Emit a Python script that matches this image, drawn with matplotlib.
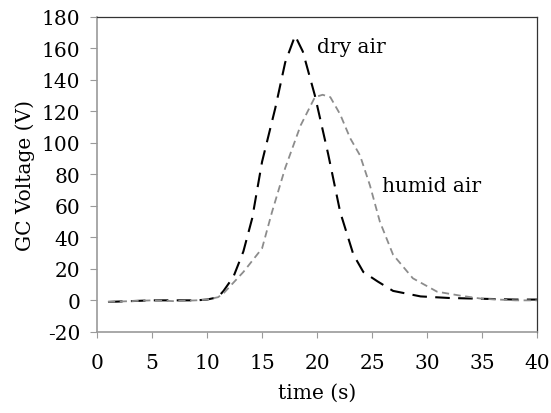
import matplotlib.pyplot as plt

# dry air trace (black, long dashes)
dry_t = [1, 3, 5, 7, 9, 10, 11, 11.5, 12.4, 13.3, 14.1, 15, 16.2, 17.1, 18,
         18.7, 19.8, 21, 22.1, 23.3, 24.2, 25.5, 26.9, 29.4, 32, 35, 38, 40]
dry_v = [-1, -0.5, 0, 0, 0, 0.5, 2, 6, 15, 31, 52, 88, 122, 151, 168,
         158, 130, 93, 56, 29, 18, 12, 6, 2.5, 1.5, 1, 0.5, 0.5]

# humid air trace (grey, short dashes)
hum_t = [1, 3, 5, 7, 9, 10, 11, 11.5, 13.3, 15, 15.9, 17.1, 18.5, 19.8, 20.5,
         21.2, 22.1, 23, 23.9, 24.8, 25.7, 26.9, 28.7, 30.9, 33, 35, 38, 40]
hum_v = [-1, -0.5, 0, -0.5, 0, 0.5, 2, 4.5, 18, 33, 56, 84, 111, 129, 130.5,
         129, 118, 103, 92, 73, 50, 29, 14, 5.5, 3, 1, 0, 0]

plt.rcParams['font.family'] = 'DejaVu Serif'
plt.rcParams['font.size'] = 14.5
plt.rcParams['axes.unicode_minus'] = False

fig = plt.figure(figsize=(5.51, 4.14), dpi=100)
ax = fig.add_axes([0.176, 0.196, 0.799, 0.761])

ax.plot(dry_t, dry_v, color='black', lw=1.5, dashes=(7, 4))
ax.plot(hum_t, hum_v, color='#8c8c8c', lw=1.3, dashes=(4, 2.5))

ax.text(20.0, 161, 'dry air', va='center', ha='left')
ax.text(25.9, 73, 'humid air', va='center', ha='left')

ax.set_xlim(0, 40)
ax.set_ylim(-20, 180)
ax.set_xticks(range(0, 41, 5))
ax.set_yticks(range(-20, 181, 20))
ax.set_xlabel('time (s)', labelpad=8)
ax.set_ylabel('GC Voltage (V)', labelpad=5)

for s in ['left', 'bottom']:
    ax.spines[s].set_color('#9a9a9a')
    ax.spines[s].set_linewidth(1.2)
for s in ['top', 'right']:
    ax.spines[s].set_color('#333333')
    ax.spines[s].set_linewidth(0.9)

ax.tick_params(axis='y', direction='out', length=5, color='#9a9a9a', pad=7)
ax.tick_params(axis='x', direction='out', length=4, color='#9a9a9a', pad=11)

fig.savefig('out.png', dpi=100)
